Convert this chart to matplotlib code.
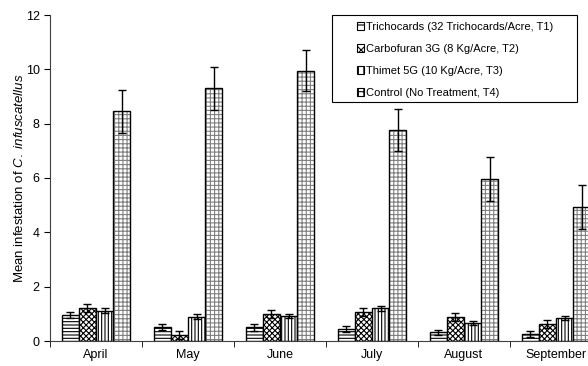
import numpy as np
import matplotlib
matplotlib.use('Agg')
from matplotlib import pyplot as plt

plt.rcParams['font.family'] = ['Liberation Sans', 'DejaVu Sans']
plt.rcParams['mathtext.fontset'] = 'custom'
plt.rcParams['mathtext.it'] = 'Liberation Sans:italic'
plt.rcParams['mathtext.rm'] = 'Liberation Sans'
plt.rcParams['hatch.linewidth'] = 0.8

# 数据
months = ['April', 'May', 'June', 'July', 'August', 'September']
labels = ['Trichocards (32 Trichocards/Acre, T1)',
          'Carbofuran 3G (8 Kg/Acre, T2)',
          'Thimet 5G (10 Kg/Acre, T3)',
          'Control (No Treatment, T4)']
t1 = [0.95, 0.52, 0.50, 0.44, 0.32, 0.25]
t2 = [1.20, 0.22, 1.00, 1.06, 0.89, 0.63]
t3 = [1.12, 0.90, 0.93, 1.20, 0.65, 0.84]
t4 = [8.45, 9.30, 9.95, 7.77, 5.96, 4.93]
e1 = [0.10, 0.12, 0.12, 0.12, 0.10, 0.10]
e2 = [0.15, 0.15, 0.15, 0.15, 0.15, 0.15]
e3 = [0.08, 0.08, 0.08, 0.08, 0.07, 0.07]
e4 = [0.80, 0.80, 0.75, 0.78, 0.80, 0.80]

series = [t1, t2, t3, t4]
errs = [e1, e2, e3, e4]
hatches = ['-----', 'xxxxxx', '|||||', '++++']
hcolors = ['black', 'black', 'black', '#808080']

fig = plt.figure(figsize=(5.88, 3.66), dpi=100)
# 右侧被裁掉，所以坐标轴宽度超出画布
ax = fig.add_axes([50/588, 25/366, 552/588, 326/366])

x = np.arange(len(months))
w = 0.185
handles = []
for i, (vals, err) in enumerate(zip(series, errs)):
    pos = x + (i - 1.5) * w
    ax.bar(pos, vals, w, color='white', edgecolor=hcolors[i],
           hatch=hatches[i], linewidth=0)
    ax.bar(pos, vals, w, color='none', edgecolor='black', linewidth=1)
    ax.errorbar(pos, vals, yerr=err, fmt='none', ecolor='black',
                elinewidth=1, capsize=3, capthick=1)
    h = plt.Rectangle((0, 0), 1, 1, facecolor='white', edgecolor='black',
                      hatch=hatches[i][:3], linewidth=0.8)
    handles.append(h)

ax.set_xlim(-0.5, 5.5)
ax.set_ylim(0, 12)
ax.set_yticks(range(0, 13, 2))
ax.set_xticks(x)
ax.set_xticklabels(months, fontsize=9)
ax.set_xticks(np.arange(-0.5, 6, 1), minor=True)
ax.tick_params(axis='x', which='major', length=0, pad=6)
ax.tick_params(axis='x', which='minor', length=4, direction='out')
ax.tick_params(axis='y', labelsize=9, length=4, direction='out')
for s in ['top', 'right']:
    ax.spines[s].set_visible(False)
ax.spines['left'].set_color('#404040')
ax.spines['bottom'].set_color('#404040')
ax.set_ylabel('Mean infestation of $\\it{C.\\ infuscatellus}$', fontsize=9.5,
              labelpad=0)

# 图例框
box = plt.Rectangle((332/588, 1 - 102/366), 245/588, 87/366,
                    transform=fig.transFigure, facecolor='white',
                    edgecolor='black', linewidth=0.8, zorder=5)
fig.add_artist(box)
leg = fig.legend(handles, labels, loc='upper left',
                 bbox_to_anchor=(357/588, 1 - 22/366), fontsize=8,
                 frameon=False, handlelength=0.65, handleheight=0.65,
                 handletextpad=0.15, borderpad=0, labelspacing=1.08,
                 borderaxespad=0)
leg.set_zorder(6)

plt.savefig('out.png', dpi=100)
